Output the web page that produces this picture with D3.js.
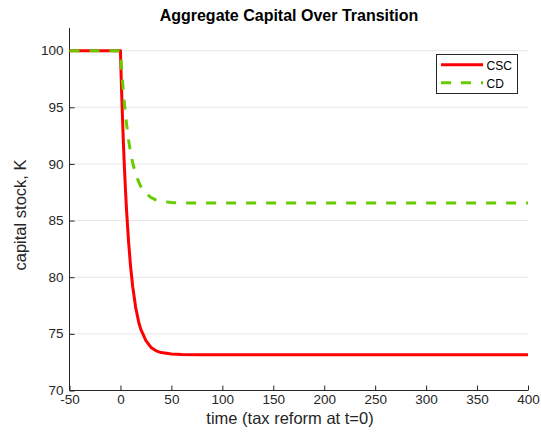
<!DOCTYPE html>
<html>
<head>
<meta charset="utf-8">
<script src="https://cdn.jsdelivr.net/npm/d3@7"></script>
<style>
  html, body { margin: 0; padding: 0; background: #fff; }
  svg { display: block; font-family: "Liberation Sans", Arial, sans-serif; }
</style>
</head>
<body>
<svg id="chart" width="541" height="438"></svg>
<script>
// ---- data ----
const time = [-50, 0, 1, 2, 3, 4, 5, 6, 8, 10, 12, 15, 18, 20, 25, 30, 35, 40, 50, 60, 80, 100, 150, 200, 250, 300, 350, 400];
const csc  = [100, 100, 96.8, 94.1, 91.6, 89.5, 87.6, 85.9, 83.1, 80.9, 79.2, 77.3, 76.0, 75.4, 74.4, 73.8, 73.5, 73.35, 73.22, 73.18, 73.16, 73.16, 73.16, 73.16, 73.16, 73.16, 73.16, 73.16];
const cd   = [100, 100, 98.6, 97.3, 96.2, 95.2, 94.3, 93.5, 92.1, 91.0, 90.1, 89.1, 88.4, 88.0, 87.4, 87.03, 86.82, 86.7, 86.6, 86.56, 86.55, 86.55, 86.55, 86.55, 86.55, 86.55, 86.55, 86.55];
const xTicks = [-50, 0, 50, 100, 150, 200, 250, 300, 350, 400];
const yTicks = [70, 75, 80, 85, 90, 95, 100];
const seriesNames = ["CSC", "CD"];
const seriesColors = ["#ff0000", "#66cc00"];

const svg = d3.select("#chart");
const mLeft = 69.5, mRight = 528, mTop = 28, mBottom = 390.5;
const x = d3.scaleLinear().domain([-50, 400]).range([mLeft, mRight]);
const y = d3.scaleLinear().domain([70, 102]).range([mBottom, mTop]);
const axisColor = "#262626";
const fmt = d => String(d);

// grid
svg.append("g").selectAll("line").data(yTicks.filter(d => d > 70)).join("line")
  .attr("x1", mLeft).attr("x2", mRight)
  .attr("y1", d => y(d)).attr("y2", d => y(d))
  .attr("stroke", "#e6e6e6").attr("stroke-width", 1);

// axes
const xAxis = d3.axisBottom(x).tickValues(xTicks).tickSize(-5).tickPadding(8).tickFormat(fmt);
const gx = svg.append("g").attr("transform", `translate(0,${mBottom})`).call(xAxis);
const yAxis = d3.axisLeft(y).tickValues(yTicks).tickSize(-5).tickPadding(6).tickFormat(fmt);
const gy = svg.append("g").attr("transform", `translate(${mLeft},0)`).call(yAxis);
[gx, gy].forEach(g => {
  g.select(".domain").attr("stroke", axisColor).attr("stroke-width", 1);
  g.selectAll(".tick line").attr("stroke", axisColor);
  g.selectAll(".tick text").attr("fill", axisColor)
    .style("font-size", "13.5px").style("font-family", '"Liberation Sans", Arial, sans-serif');
});
gx.select(".domain").attr("d", `M${mLeft},0H${mRight}`);
gy.select(".domain").attr("d", `M0,${mTop}V${mBottom}`);
gx.selectAll(".tick text").attr("dy", "0.71em").attr("y", 3.5);
gy.selectAll(".tick text").attr("dy", "0.3em");

// lines
const line = d3.line().x(d => x(d[0])).y(d => y(d[1]));
svg.append("path").datum(time.map((t, i) => [t, csc[i]]))
  .attr("d", line).attr("fill", "none")
  .attr("stroke", seriesColors[0]).attr("stroke-width", 3).attr("stroke-linejoin", "round");
svg.append("path").datum(time.map((t, i) => [t, cd[i]]))
  .attr("d", line).attr("fill", "none")
  .attr("stroke", seriesColors[1]).attr("stroke-width", 3)
  .attr("stroke-dasharray", "10,10");

// title & labels
svg.append("text").attr("x", 289).attr("y", 20.7).attr("text-anchor", "middle")
  .style("font-size", "16px").style("font-weight", "bold").attr("fill", "#000")
  .text("Aggregate Capital Over Transition");
svg.append("text").attr("x", 290).attr("y", 424).attr("text-anchor", "middle")
  .style("font-size", "16.5px").attr("fill", axisColor)
  .text("time (tax reform at t=0)");
svg.append("text").attr("transform", "translate(26,215) rotate(-90)").attr("text-anchor", "middle")
  .style("font-size", "16.5px").attr("fill", axisColor)
  .text("capital stock, K");

// legend
const lg = svg.append("g");
lg.append("rect").attr("x", 436.5).attr("y", 54.5).attr("width", 81).attr("height", 39)
  .attr("fill", "#fff").attr("stroke", axisColor).attr("stroke-width", 1);
seriesNames.forEach((name, i) => {
  const yy = 64.7 + i * 18;
  lg.append("line").attr("x1", 441).attr("x2", 483).attr("y1", yy).attr("y2", yy)
    .attr("stroke", seriesColors[i]).attr("stroke-width", 3)
    .attr("stroke-dasharray", i === 1 ? "10,10" : null);
  lg.append("text").attr("x", 486.5).attr("y", yy + 5.2)
    .style("font-size", "12px").attr("fill", "#000").text(name);
});
</script>
</body>
</html>
